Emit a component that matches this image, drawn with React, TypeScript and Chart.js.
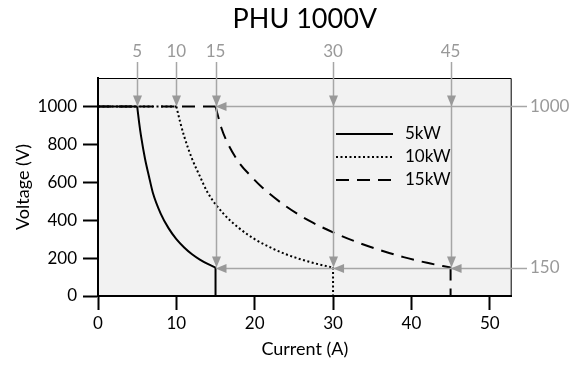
import React, { useEffect, useRef } from 'react';
import { Chart, registerables } from 'chart.js';

Chart.register(...registerables);

const TITLE = 'PHU 1000V';
const X_TITLE = 'Current (A)';
const Y_TITLE = 'Voltage (V)';

const seriesLabels = ['5kW', '10kW', '15kW'];
const seriesDashes: number[][] = [[], [2, 2.5], [13, 8]];

const current5 = [5, 5.25, 5.5, 6, 6.5, 7, 8, 9, 10, 11, 12, 13, 14, 15];
const voltage5 = [1000, 915, 842, 724, 632, 545, 435, 358, 300, 256, 220, 192, 169, 150];

const current10 = [10, 10.5, 11, 12, 13, 14, 16, 18, 20, 22, 24, 26, 28, 30];
const voltage10 = [1000, 915, 842, 724, 632, 545, 435, 358, 300, 256, 220, 192, 169, 150];

const current15 = [15, 15.75, 16.5, 18, 19.5, 21, 24, 27, 30, 33, 36, 39, 42, 45];
const voltage15 = [1000, 886, 810, 704, 633, 571, 473, 396, 336, 285, 242, 205, 175, 150];

const currentTicks = [0, 10, 20, 30, 40, 50];
const voltageTicks = [0, 200, 400, 600, 800, 1000];
const X_MAX = 52.8;
const Y_MAX = 1150;

// gray annotation marks
const markCurrents = [5, 10, 15, 30, 45];
const markStops = [1000, 1000, 150, 150, 150];
const levelVoltages = [1000, 150];
const levelStops = [15, 15];
const levelArrowCurrents = [[15], [15, 30, 45]];

const FONT = 'Lato, "Open Sans", sans-serif';
const GRAY_LINE = '#a6a6a6';
const GRAY_HEAD = '#999999';
const GRAY_TEXT = '#999999';

const seriesData = [
  { I: current5, V: voltage5 },
  { I: current10, V: voltage10 },
  { I: current15, V: voltage15 },
];

function buildDatasets() {
  const ds: any[] = [];
  seriesData.forEach((s, k) => {
    const base = {
      borderColor: '#000',
      borderWidth: 2,
      borderDash: seriesDashes[k],
      pointRadius: 0,
      fill: false,
      label: seriesLabels[k],
    };
    const last = s.I.length - 1;
    ds.push({ ...base, data: [{ x: 0, y: s.V[0] }, { x: s.I[0], y: s.V[0] }] });
    ds.push({
      ...base,
      cubicInterpolationMode: 'monotone',
      data: s.I.map((x, j) => ({ x, y: s.V[j] })),
    });
    ds.push({ ...base, data: [{ x: s.I[last], y: s.V[last] }, { x: s.I[last], y: 0 }] });
  });
  return ds;
}

const decor = {
  id: 'decor',
  beforeDraw(chart: any) {
    const { ctx, chartArea: a } = chart;
    ctx.save();
    ctx.fillStyle = '#f2f2f2';
    ctx.fillRect(a.left, a.top, a.right - a.left, a.bottom - a.top);
    ctx.restore();
  },
  beforeDatasetsDraw(chart: any) {
    const { ctx, chartArea: a } = chart;
    ctx.save();
    ctx.strokeStyle = '#000';
    ctx.lineWidth = 1;
    ctx.beginPath();
    ctx.moveTo(a.left, a.top + 0.5);
    ctx.lineTo(a.right - 0.5, a.top + 0.5);
    ctx.lineTo(a.right - 0.5, a.bottom);
    ctx.stroke();
    ctx.restore();
  },
  afterDatasetsDraw(chart: any) {
    const { ctx, chartArea: a } = chart;
    const xs = chart.scales.x;
    const ys = chart.scales.y;
    ctx.save();

    const headDown = (x: number, tip: number) => {
      ctx.fillStyle = GRAY_HEAD;
      ctx.beginPath();
      ctx.moveTo(x - 4.5, tip - 11);
      ctx.lineTo(x + 4.5, tip - 11);
      ctx.lineTo(x, tip);
      ctx.closePath();
      ctx.fill();
    };
    const headLeft = (tip: number, y: number) => {
      ctx.fillStyle = GRAY_HEAD;
      ctx.beginPath();
      ctx.moveTo(tip + 11, y - 4.5);
      ctx.lineTo(tip + 11, y + 4.5);
      ctx.lineTo(tip, y);
      ctx.closePath();
      ctx.fill();
    };

    ctx.strokeStyle = GRAY_LINE;
    ctx.lineWidth = 1.5;
    markCurrents.forEach((m, i) => {
      const x = Math.round(xs.getPixelForValue(m)) + 0.5;
      const yEnd = ys.getPixelForValue(markStops[i]);
      ctx.beginPath();
      ctx.moveTo(x, 62);
      ctx.lineTo(x, yEnd - 4);
      ctx.stroke();
    });
    levelVoltages.forEach((v, i) => {
      const y = Math.round(ys.getPixelForValue(v)) + 0.5;
      const xEnd = xs.getPixelForValue(levelStops[i]);
      ctx.beginPath();
      ctx.moveTo(527, y);
      ctx.lineTo(xEnd + 4, y);
      ctx.stroke();
    });
    markCurrents.forEach((m, i) => {
      const x = Math.round(xs.getPixelForValue(m)) + 0.5;
      levelVoltages.forEach((v) => {
        if (v >= markStops[i]) headDown(x, ys.getPixelForValue(v));
      });
    });
    levelVoltages.forEach((v, i) => {
      const y = Math.round(ys.getPixelForValue(v)) + 0.5;
      levelArrowCurrents[i].forEach((c) => headLeft(xs.getPixelForValue(c), y));
    });

    ctx.fillStyle = GRAY_TEXT;
    ctx.font = `17px ${FONT}`;
    ctx.textAlign = 'center';
    ctx.textBaseline = 'middle';
    markCurrents.forEach((m) => {
      ctx.fillText(String(m), xs.getPixelForValue(m), 52);
    });
    ctx.textAlign = 'left';
    levelVoltages.forEach((v) => {
      ctx.fillText(String(v), 530, ys.getPixelForValue(v));
    });

    ctx.font = `17px ${FONT}`;
    ctx.textBaseline = 'middle';
    ctx.textAlign = 'left';
    seriesLabels.forEach((lab, k) => {
      const y = 134 + k * 23;
      ctx.strokeStyle = '#000';
      ctx.lineWidth = 2;
      ctx.setLineDash(seriesDashes[k]);
      ctx.beginPath();
      ctx.moveTo(336, y);
      ctx.lineTo(393, y);
      ctx.stroke();
      ctx.setLineDash([]);
      ctx.fillStyle = '#000';
      ctx.fillText(lab, 405, y);
    });

    ctx.fillStyle = '#000';
    ctx.font = `27px ${FONT}`;
    ctx.textAlign = 'center';
    ctx.textBaseline = 'middle';
    ctx.fillText(TITLE, (a.left + a.right) / 2, 19);

    ctx.restore();
  },
};

export default function App() {
  const ref = useRef<HTMLCanvasElement | null>(null);
  useEffect(() => {
    if (!ref.current) return;
    const chart = new Chart(ref.current, {
      type: 'line',
      data: { datasets: buildDatasets() },
      options: {
        animation: false,
        responsive: true,
        maintainAspectRatio: false,
        layout: { padding: { left: 0, top: 78, right: 569 - 511.7, bottom: 0 } },
        plugins: {
          legend: { display: false },
          tooltip: { enabled: false },
          title: { display: false },
        },
        scales: {
          x: {
            type: 'linear',
            min: 0,
            max: X_MAX,
            afterFit: (s: any) => { s.height = 72; },
            afterBuildTicks: (s: any) => { s.ticks = currentTicks.map((v) => ({ value: v })); },
            grid: { drawOnChartArea: false, drawTicks: true, tickLength: 14, tickWidth: 2, tickColor: '#000' },
            border: { display: true, color: '#000', width: 2 },
            ticks: { color: '#000', font: { family: FONT, size: 17 }, padding: 3, maxRotation: 0, callback: (v: any) => String(v) },
            title: { display: true, text: X_TITLE, color: '#000', font: { family: FONT, size: 18 }, padding: { top: 0, bottom: 8 } },
          },
          y: {
            type: 'linear',
            min: 0,
            max: Y_MAX,
            afterFit: (s: any) => { s.width = 98; },
            afterBuildTicks: (s: any) => { s.ticks = voltageTicks.map((v) => ({ value: v })); },
            grid: { drawOnChartArea: false, drawTicks: true, tickLength: 15, tickWidth: 2, tickColor: '#000' },
            border: { display: true, color: '#000', width: 2 },
            ticks: { color: '#000', font: { family: FONT, size: 17 }, padding: 6, callback: (v: any) => String(v) },
            title: { display: true, text: Y_TITLE, color: '#000', font: { family: FONT, size: 18 }, padding: { top: 12, bottom: 0 } },
          },
        },
      },
      plugins: [decor],
    });
    return () => chart.destroy();
  }, []);
  return (
    <div style={{ position: 'fixed', left: 0, top: 0, width: 569, height: 368 }}>
      <canvas ref={ref} />
    </div>
  );
}
